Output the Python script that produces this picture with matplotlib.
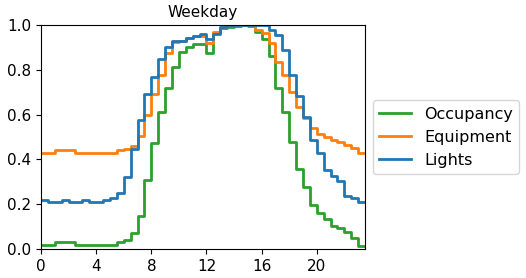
import numpy as np
import matplotlib
matplotlib.use("Agg")
import matplotlib.pyplot as plt

hours = np.arange(0, 24, 0.5)

occupancy = [0.02, 0.02, 0.03, 0.03, 0.03, 0.02, 0.02, 0.02, 0.02, 0.02, 0.02, 0.033,
             0.04, 0.07, 0.147, 0.308, 0.472, 0.613, 0.717, 0.814, 0.88, 0.90, 0.915, 0.915,
             0.873, 0.965, 0.985, 0.99, 0.995, 1.0, 0.995, 0.97, 0.936, 0.86, 0.72, 0.612,
             0.477, 0.356, 0.279, 0.196, 0.16, 0.133, 0.105, 0.094, 0.078, 0.048, 0.016, 0.016]

equipment = [0.43, 0.43, 0.44, 0.44, 0.44, 0.43, 0.43, 0.43, 0.43, 0.43, 0.43, 0.44,
             0.445, 0.46, 0.505, 0.60, 0.69, 0.775, 0.875, 0.925, 0.93, 0.94, 0.95, 0.95,
             0.92, 0.97, 0.99, 1.0, 1.0, 1.0, 1.0, 0.98, 0.963, 0.918, 0.836, 0.775,
             0.70, 0.632, 0.583, 0.539, 0.513, 0.50, 0.487, 0.476, 0.464, 0.452, 0.43, 0.43]

lights = [0.22, 0.21, 0.21, 0.22, 0.21, 0.21, 0.22, 0.21, 0.21, 0.22, 0.228, 0.25,
          0.32, 0.445, 0.575, 0.69, 0.77, 0.85, 0.903, 0.928, 0.93, 0.94, 0.95, 0.96,
          0.936, 0.96, 0.99, 1.0, 1.0, 1.0, 1.0, 1.0, 1.0, 0.98, 0.955, 0.888,
          0.775, 0.683, 0.59, 0.487, 0.427, 0.353, 0.327, 0.305, 0.237, 0.226, 0.21, 0.21]

fig = plt.figure(figsize=(5.26, 2.78), dpi=100)
ax = fig.add_axes([0.078, 0.104, 0.616, 0.806])

ax.step(hours, occupancy, where="post", color="#2ca02c", lw=2, label="Occupancy")
ax.step(hours, equipment, where="post", color="#ff7f0e", lw=2, label="Equipment")
ax.step(hours, lights, where="post", color="#1f77b4", lw=2, label="Lights")

ax.set_xlim(hours[0], hours[-1])
ax.set_ylim(0, 1)
ax.set_xticks(np.arange(0, 24, 4))
ax.set_yticks(np.arange(0, 1.01, 0.2))
ax.tick_params(labelsize=11)
ax.set_title("Weekday", fontsize=11)
ax.legend(loc="center left", bbox_to_anchor=(1.0, 0.5), fontsize=11.5)

fig.savefig("out.png", dpi=100)
